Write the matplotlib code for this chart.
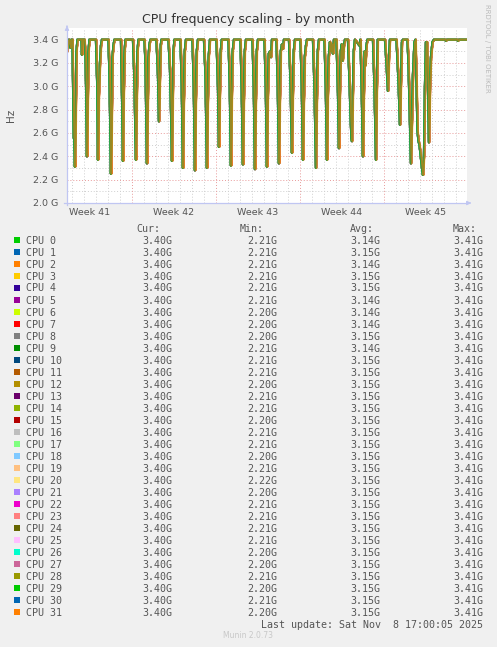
import matplotlib
matplotlib.use("Agg")
import matplotlib.pyplot as plt
from matplotlib.patches import Rectangle

# hours since left edge of graph window, frequency in GHz (one trace, all cpus nearly identical)
hours = [0, 2, 4, 7, 9,
         11, 12.6, 13.6, 14.6, 16, 17.6, 19, 21,
         26, 29, 30, 31,
         35, 37, 38.6, 40, 41.4, 43, 45,
         58, 60.6, 62, 63.6, 66, 68, 70,
         83, 85, 86.8, 88, 89.2, 91, 93, 95,
         106, 108, 110.6, 112, 113.4, 115.2, 117,
         132, 135, 136.8, 138, 139.4, 141, 143,
         155, 157, 158.8, 160, 161.4, 163, 165, 167,
         179, 182, 184, 186, 187.6, 189,
         203, 206, 208.6, 210, 211.4, 213, 215,
         227, 229.6, 232, 233.4, 235.6, 238,
         251, 253.6, 256, 257.6, 259.6, 262,
         274, 277, 278.8, 280, 281.4, 283.4, 286,
         299, 302, 304, 305.6, 307.6, 309.6,
         323, 325.6, 328, 329.4, 331.4, 334,
         347, 349.6, 352, 353.6, 355.6, 358,
         371, 373.6, 376, 377.4, 379.6, 382,
         395, 397.6, 400, 401.4, 403.6, 406, 408, 410,
         419, 421.6, 424, 425.6, 427.6, 430, 432, 434,
         444, 447, 450, 451.6, 453.6, 456,
         467, 469.6, 472, 473.6, 475.6, 478, 480,
         492, 495, 498, 499.6, 501.6, 504,
         515, 517.6, 520, 521.6, 523.6, 526, 528, 530, 532, 534,
         539, 542, 544, 545.6, 547.6, 549.6, 551.6, 554, 556,
         562, 565, 567.6, 569, 570, 571.6, 573.6, 576,
         585, 587, 589.6, 592, 593.6, 595.6, 597, 599, 601,
         612, 615, 618, 619.6, 621.6,
         636, 639, 642, 644, 646,
         659, 663, 666, 668, 670, 672,
         681, 683, 686, 688, 690, 692, 695,
         697, 699, 701, 703, 705, 708, 710, 712, 714, 716, 718,
         720, 722, 724, 726, 728, 731, 734,
         756, 758, 760, 780, 782, 784, 798]
ghz = [3.30, 3.38, 3.40, 3.33, 3.40,
       3.40, 2.90, 2.56, 2.55, 2.31, 2.80, 3.30, 3.40,
       3.40, 3.40, 3.27, 3.40,
       3.40, 3.28, 2.90, 2.40, 2.85, 3.30, 3.40,
       3.40, 3.00, 2.37, 2.90, 3.20, 3.35, 3.40,
       3.40, 3.10, 2.60, 2.25, 2.60, 3.25, 3.35, 3.40,
       3.40, 3.40, 2.80, 2.36, 2.90, 3.30, 3.40,
       3.40, 3.05, 2.60, 2.37, 2.85, 3.30, 3.40,
       3.40, 3.20, 2.70, 2.34, 2.80, 3.25, 3.36, 3.40,
       3.40, 3.10, 2.70, 3.10, 3.35, 3.40,
       3.40, 3.15, 2.70, 2.36, 2.85, 3.30, 3.40,
       3.40, 3.00, 2.30, 2.80, 3.30, 3.40,
       3.40, 3.00, 2.28, 2.85, 3.30, 3.40,
       3.40, 3.10, 2.60, 2.30, 2.80, 3.25, 3.40,
       3.40, 3.00, 2.48, 2.90, 3.30, 3.40,
       3.40, 3.00, 2.32, 2.85, 3.30, 3.40,
       3.40, 2.95, 2.33, 2.85, 3.30, 3.40,
       3.40, 3.00, 2.29, 2.80, 3.30, 3.40,
       3.40, 3.00, 2.31, 2.85, 3.28, 3.30, 3.25, 3.40,
       3.40, 3.00, 2.34, 2.85, 3.30, 3.36, 3.32, 3.40,
       3.40, 3.05, 2.43, 2.90, 3.30, 3.40,
       3.40, 3.00, 2.37, 2.85, 3.25, 3.35, 3.40,
       3.40, 3.00, 2.30, 2.85, 3.30, 3.40,
       3.40, 3.00, 2.37, 2.90, 3.25, 3.38, 3.30, 3.36, 3.28, 3.40,
       3.40, 2.95, 2.47, 2.90, 3.30, 3.36, 3.22, 3.35, 3.40,
       3.40, 3.05, 2.70, 2.55, 2.53, 2.90, 3.30, 3.40,
       3.35, 3.40, 2.95, 2.40, 2.90, 3.30, 3.18, 3.35, 3.40,
       3.40, 3.00, 2.37, 2.95, 3.40,
       3.40, 3.20, 2.96, 3.25, 3.40,
       3.40, 3.05, 2.67, 3.05, 3.38, 3.40,
       3.40, 3.20, 2.70, 2.34, 2.70, 3.10, 3.38,
       3.40, 3.05, 2.62, 2.53, 2.50, 2.38, 2.30, 2.24, 2.40, 3.00, 3.38,
       3.38, 3.00, 2.52, 3.00, 3.25, 3.38, 3.40,
       3.40, 3.39, 3.40, 3.40, 3.39, 3.40, 3.40]

# small per-cpu time lag (hours) so the overlapping traces show through
lag = [0.2, -0.3, 0.4, -0.1, 0.3, -0.4, 0.1, -0.2, 0.0, 0.35, -0.25, 0.15,
       -0.35, 0.25, -0.05, 0.45, -0.15, 0.05, -0.45, 0.3, -0.3, 0.2, -0.1, 0.4,
       -0.4, 0.1, -0.2, 0.0, 0.25, -0.25, 0.0, 1.0]
# opacity per cpu (last traces antialias into each other -> olive band)
alpha = [1.0] * 30 + [0.5, 0.6]

colors = ['#00CC00', '#0066B3', '#FF8000', '#FFCC00', '#330099', '#990099',
          '#CCFF00', '#FF0000', '#808080', '#008F00', '#00487D', '#B35A00',
          '#B38F00', '#6B006B', '#8FB300', '#B30000', '#BEBEBE', '#80FF80',
          '#80C9FF', '#FFC080', '#FFE680', '#AA80FF', '#EE00CC', '#FF8080',
          '#666600', '#FFBFFF', '#00FFCC', '#CC6699', '#999900', '#00CC00',
          '#0066B3', '#FF8000']

cur = ['3.40G'] * 32
mins = ['2.21G', '2.21G', '2.21G', '2.21G', '2.21G', '2.21G', '2.20G', '2.20G',
        '2.20G', '2.21G', '2.21G', '2.21G', '2.20G', '2.21G', '2.21G', '2.20G',
        '2.21G', '2.21G', '2.20G', '2.21G', '2.22G', '2.20G', '2.21G', '2.21G',
        '2.21G', '2.21G', '2.20G', '2.20G', '2.21G', '2.20G', '2.21G', '2.20G']
avgs = ['3.14G', '3.15G', '3.14G', '3.15G', '3.15G', '3.14G', '3.14G', '3.14G',
        '3.15G', '3.14G', '3.15G', '3.15G', '3.15G', '3.15G', '3.15G', '3.15G',
        '3.15G', '3.15G', '3.15G', '3.15G', '3.15G', '3.15G', '3.15G', '3.15G',
        '3.15G', '3.15G', '3.15G', '3.15G', '3.15G', '3.15G', '3.15G', '3.15G']
maxs = ['3.41G'] * 32

week_labels = ['Week 41', 'Week 42', 'Week 43', 'Week 44', 'Week 45']
week_pos = [46, 214, 382, 550, 718]
yticks = [2.0, 2.2, 2.4, 2.6, 2.8, 3.0, 3.2, 3.4]

W, H = 497, 647
def fx(x):
    return x / W
def fy(y):
    return 1 - y / H

fig = plt.figure(figsize=(W / 100, H / 100), dpi=100, facecolor='#F0F0F0')
ax = fig.add_axes([fx(67), fy(203), 400 / W, 175 / H])
ax.set_facecolor('white')
ax.set_xlim(0, 800)
ax.set_ylim(2.0, 3.5)
for s in ax.spines.values():
    s.set_visible(False)

# grid
dot = (0, (1, 2))
for k in range(15):
    v = 2.0 + 0.1 * k
    major = k % 2 == 0
    ax.axhline(v, color='#E89A9A' if major else '#CFCFCF', lw=0.7, ls=dot, zorder=0)
for d in range(34):
    h = 10 + 24 * d
    if h > 800:
        break
    major = (h - 130) % 168 == 0
    ax.axvline(h, color='#E89A9A' if major else '#CFCFCF', lw=0.7, ls=dot, zorder=0)

for i in range(32):
    ax.plot([h + lag[i] for h in hours], ghz, color=colors[i], lw=1.4, alpha=alpha[i],
            zorder=2)

ax.set_yticks(yticks)
ax.set_yticklabels(['%.1f G' % v for v in yticks])
ax.set_xticks(week_pos)
ax.set_xticklabels(week_labels)
ax.tick_params(axis='y', length=0, pad=6.5, labelsize=6.8, labelcolor='#555555')
ax.tick_params(axis='x', length=0, pad=3.5, labelsize=6.8, labelcolor='#555555')

# axis arrows
axis_col = '#C0C6F2'
fig.add_artist(plt.Line2D([fx(67), fx(67)], [fy(205), fy(28)], color=axis_col, lw=0.9))
fig.add_artist(plt.Line2D([fx(64), fx(468)], [fy(203), fy(203)], color=axis_col, lw=0.9))
ax.annotate('', xy=(fx(67), fy(23)), xytext=(fx(67), fy(29)), xycoords='figure fraction',
            arrowprops=dict(arrowstyle='-|>', color=axis_col, lw=0.8, mutation_scale=6))
ax.annotate('', xy=(fx(474), fy(203)), xytext=(fx(467), fy(203)), xycoords='figure fraction',
            arrowprops=dict(arrowstyle='-|>', color=axis_col, lw=0.8, mutation_scale=6))

fig.text(fx(248), fy(19), 'CPU frequency scaling - by month', ha='center', va='center',
         fontsize=9, color='#333333')
fig.text(fx(11), fy(115), 'Hz', ha='center', va='center', rotation=90, fontsize=7.5,
         color='#555555')
fig.text(fx(487), fy(4), 'RRDTOOL / TOBI OETIKER', ha='center', va='top', rotation=270,
         fontsize=5, color='#BBBBBB')

# legend
mono = dict(family='DejaVu Sans Mono', fontsize=7.2, color='#555555', va='baseline')
base = 3.5
fig.text(fx(136), fy(228 + base), 'Cur:', **mono)
fig.text(fx(240), fy(228 + base), 'Min:', **mono)
fig.text(fx(350), fy(228 + base), 'Avg:', **mono)
fig.text(fx(453), fy(228 + base), 'Max:', **mono)
for i in range(32):
    y = 240 + 12 * i
    fig.add_artist(Rectangle((fx(14), fy(y + 3)), 6 / W, 6 / H, facecolor=colors[i],
                             edgecolor='none', transform=fig.transFigure))
    fig.text(fx(26), fy(y + base), 'CPU %d' % i, **mono)
    fig.text(fx(142), fy(y + base), cur[i], **mono)
    fig.text(fx(247), fy(y + base), mins[i], **mono)
    fig.text(fx(350), fy(y + base), avgs[i], **mono)
    fig.text(fx(453), fy(y + base), maxs[i], **mono)
fig.text(fx(483), fy(624 + base), 'Last update: Sat Nov  8 17:00:05 2025', ha='right',
         family='DejaVu Sans Mono', fontsize=7.2, color='#555555', va='baseline')
fig.text(fx(248), fy(636), 'Munin 2.0.73', ha='center', va='center', fontsize=5.5,
         color='#C8C8C8')

fig.savefig('out.png', dpi=100, facecolor=fig.get_facecolor())
